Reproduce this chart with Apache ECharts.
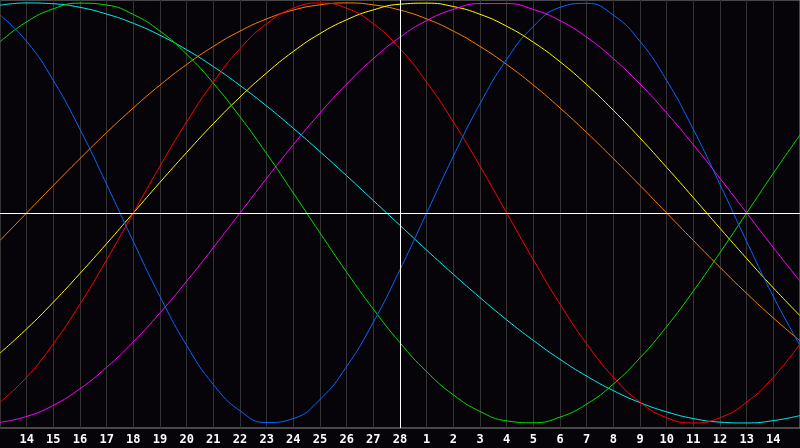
<!DOCTYPE html>
<html>
<head>
<meta charset="utf-8">
<script src="https://cdn.jsdelivr.net/npm/echarts@6/dist/echarts.min.js"></script>
<style>
  html, body { margin: 0; padding: 0; background: #060409; }
  #chart { width: 800px; height: 448px; }
</style>
</head>
<body>
<div id="chart"></div>
<script>
// day labels along the bottom (Feb 13 .. Mar 15, today = 28)
var days = ['13','14','15','16','17','18','19','20','21','22','23','24','25','26','27','28',
	'1','2','3','4','5','6','7','8','9','10','11','12','13','14','15'];

// cycle values, one per day
var blue = [0.942,0.817,0.631,0.398,0.136,-0.136,-0.398,-0.631,-0.817,-0.942,-0.998,-0.979,-0.888,-0.731,-0.520,-0.270,
	0,0.270,0.520,0.731,0.888,0.979,0.998,0.942,0.817,0.631,0.398,0.136,-0.136,-0.398,-0.631];
var red = [-0.901,-0.782,-0.623,-0.434,-0.223,
	0,0.223,0.434,0.623,0.782,0.901,0.975,1,0.975,0.901,0.782,0.623,0.434,0.223,0,-0.223,-0.434,-0.623,-0.782,-0.901,-0.975,-1,-0.975,-0.901,-0.782,-0.623];
var green = [0.815,0.910,0.972,0.999,0.990,0.945,0.866,0.756,0.618,0.458,0.282,0.095,-0.095,-0.282,-0.458,-0.618,-0.756,-0.866,-0.945,-0.990,-0.999,
	-0.972,-0.910,-0.815,-0.690,-0.541,-0.372,-0.189,0,0.189,0.372];
var magenta = [-0.997,-0.969,-0.916,-0.837,-0.735,-0.614,-0.476,-0.325,-0.165,
	0,0.165,0.325,0.476,0.614,0.735,0.837,0.916,0.969,0.997,0.997,0.969,0.916,0.837,0.735,0.614,0.476,0.325,0.165,0,-0.165,-0.325];
var yellow = [-0.667,-0.552,-0.425,-0.288,-0.146,
	0,0.146,0.288,0.425,0.552,0.667,0.769,0.854,0.920,0.967,0.994,0.999,0.983,0.946,0.889,0.813,0.720,0.611,0.489,0.357,0.217,0.073,-0.073,-0.217,-0.357,-0.489];
var orange = [-0.131,
	0,0.131,0.259,0.383,0.500,0.609,0.707,0.793,0.866,0.924,0.966,0.991,1,0.991,0.966,0.924,0.866,0.793,0.707,0.609,0.500,0.383,0.259,0.131,0,-0.131,-0.259,-0.383,-0.500,-0.609];
var cyan = [0.989,1.000,0.996,0.979,0.947,0.903,0.846,0.777,0.697,0.607,0.509,0.403,0.292,0.177,0.059,-0.059,-0.177,-0.292,-0.403,-0.509,
	-0.607,-0.697,-0.777,-0.846,-0.903,-0.947,-0.979,-0.996,-1.000,-0.989,-0.965];

var todayIndex = 15;

var line = function (data, color) {
	return {
		type: 'line',
		data: data,
		smooth: 0.5,
		symbol: 'none',
		silent: true,
		lineStyle: {width: 1, color: color}
	};
};

var series = [
	line(cyan, '#00f0f0'),
	line(orange, '#ff7f00'),
	line(yellow, '#ffff00'),
	line(magenta, '#ff00ff'),
	line(green, '#00e000'),
	line(red, '#ff0000'),
	line(blue, '#0a66ff')
];
series[0].markLine = {
	silent: true,
	symbol: 'none',
	label: {show: false},
	lineStyle: {color: '#ffffff', width: 1, type: 'solid'},
	data: [{yAxis: 0}, {xAxis: todayIndex}]
};

echarts.init(document.getElementById('chart')).setOption({
	backgroundColor: '#060409',
	animation: false,
	grid: {
		left: 0, right: 0, top: 0, bottom: 20,
		show: true, borderColor: '#8a8a8a', borderWidth: 1
	},
	xAxis: {
		type: 'category',
		data: days,
		boundaryGap: false,
		axisLine: {lineStyle: {color: '#9a9a9a'}},
		axisTick: {show: false},
		splitLine: {show: true, interval: 0, lineStyle: {color: '#333333', width: 1}},
		axisLabel: {
			interval: function (i) { return i > 0 && i < days.length - 1; },
			color: '#ffffff',
			fontFamily: 'DejaVu Sans Mono',
			fontWeight: 'bold',
			fontSize: 12,
			margin: 6
		}
	},
	yAxis: {
		type: 'value',
		min: -1.024,
		max: 1.014,
		show: false,
		splitLine: {show: false}
	},
	series: series
});
</script>
</body>
</html>
